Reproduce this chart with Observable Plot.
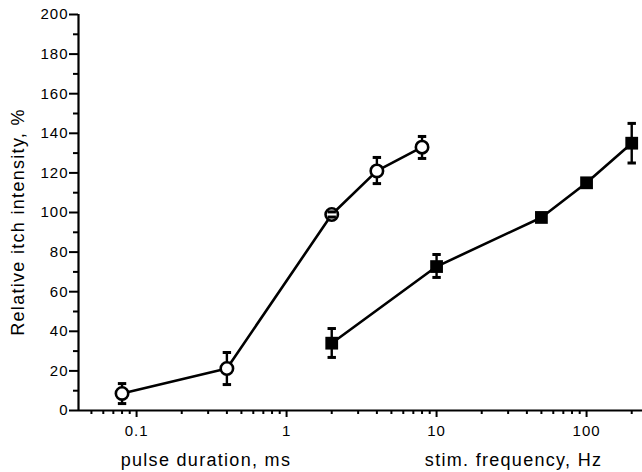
<!DOCTYPE html>
<html><head><meta charset="utf-8">
<script src="https://cdn.jsdelivr.net/npm/d3@7"></script>
<script src="https://cdn.jsdelivr.net/npm/@observablehq/plot@0.6"></script>
<style>body{margin:0;background:#fff}</style>
</head><body><div id="chart"></div>
<script>
// pulse duration series (open circles)
const durX = [0.08, 0.4, 2, 4, 8];
const durY = [8.6, 21.2, 99, 121, 133];
const durLo = [3.5, 13.1, 97.7, 114.6, 127.3];
const durHi = [13.6, 29.3, 100.3, 127.8, 138.4];
// stimulation frequency series (filled squares)
const freqX = [2, 10, 50, 100, 200];
const freqY = [34, 72.7, 97.5, 115, 135];
const freqLo = [26.8, 67.2, 95.5, 113, 125];
const freqHi = [41.4, 78.8, 99.5, 117, 145];
// axes
const yMajor = [0, 20, 40, 60, 80, 100, 120, 140, 160, 180, 200];
const yMinor = [10, 30, 50, 70, 90, 110, 130, 150, 170, 190];
const xMajor = [0.1, 1, 10, 100];
const xMajorLabels = ["0.1", "1", "10", "100"];
const xMinor = [0.05, 0.06, 0.07, 0.08, 0.09, 0.2, 0.3, 0.4, 0.5, 0.6, 0.7, 0.8, 0.9,
  2, 3, 4, 5, 6, 7, 8, 9, 20, 30, 40, 50, 60, 70, 80, 90, 200];
const xDomain = [0.041, 236];
const yDomain = [0, 200];
const xLabel1 = "pulse duration, ms";
const xLabel2 = "stim. frequency, Hz";
const yLabel = "Relative itch intensity, %";

const dur = durX.map((x, i) => ({x, y: durY[i], lo: durLo[i], hi: durHi[i]}));
const freq = freqX.map((x, i) => ({x, y: freqY[i], lo: freqLo[i], hi: freqHi[i]}));
const all = dur.concat(freq);

const cap = {draw(ctx) { ctx.moveTo(-4.2, 0); ctx.lineTo(4.2, 0); }};

const chart = Plot.plot({
  width: 642,
  height: 472,
  marginLeft: 78,
  marginTop: 14,
  marginBottom: 62,
  marginRight: 0,
  style: {fontFamily: "'Liberation Sans', Arial, sans-serif", fontSize: "15px", letterSpacing: "1px", color: "black", background: "white"},
  x: {type: "log", domain: xDomain, axis: null},
  y: {domain: yDomain, axis: null},
  marks: [
    Plot.axisY({ticks: yMajor, tickSize: 9, tickPadding: 1, strokeWidth: 2, label: null, tickFormat: d => String(d)}),
    Plot.axisY({ticks: yMinor, tickSize: 5, strokeWidth: 2, label: null, tickFormat: () => ""}),
    Plot.axisX({ticks: xMajor, tickSize: 7, tickPadding: 8, strokeWidth: 2, label: null, tickFormat: d => xMajorLabels[xMajor.indexOf(d)]}),
    Plot.axisX({ticks: xMinor, tickSize: 4, strokeWidth: 2, label: null, tickFormat: () => ""}),
    Plot.ruleX([xDomain[0]], {y1: yDomain[0], y2: yDomain[1], strokeWidth: 2.2}),
    Plot.ruleY([yDomain[0]], {x1: xDomain[0], x2: xDomain[1], strokeWidth: 2.2}),
    Plot.line(dur, {x: "x", y: "y", stroke: "black", strokeWidth: 2.6}),
    Plot.line(freq, {x: "x", y: "y", stroke: "black", strokeWidth: 2.6}),
    Plot.ruleX(all, {x: "x", y1: "lo", y2: "hi", stroke: "black", strokeWidth: 2.4}),
    Plot.dot(dur, {x: "x", y: "y", r: 6.2, fill: "white", stroke: "black", strokeWidth: 2.6}),
    Plot.dot(freq, {x: "x", y: "y", r: 7.2, symbol: "square", fill: "black", stroke: "none"}),
    Plot.dot(all, {x: "x", y: "lo", symbol: cap, fill: "none", stroke: "black", strokeWidth: 3}),
    Plot.dot(all, {x: "x", y: "hi", symbol: cap, fill: "none", stroke: "black", strokeWidth: 3}),
    Plot.text([xLabel1], {x: [0.29], frameAnchor: "bottom", dy: 55, lineAnchor: "bottom", fontSize: 18, text: d => d}),
    Plot.text([xLabel2], {x: [32.6], frameAnchor: "bottom", dy: 55, lineAnchor: "bottom", fontSize: 18, text: d => d}),
    Plot.text([yLabel], {y: [95.2], frameAnchor: "left", textAnchor: "middle", dx: -60, rotate: -90, fontSize: 18, text: d => d})
  ]
});
chart.querySelectorAll("text").forEach(t => {
  if (t.getAttribute("font-size") === "18" || (t.parentNode && t.parentNode.getAttribute("font-size") === "18")) t.style.letterSpacing = "1.3px";
});
document.getElementById("chart").appendChild(chart);
</script>
</body></html>
